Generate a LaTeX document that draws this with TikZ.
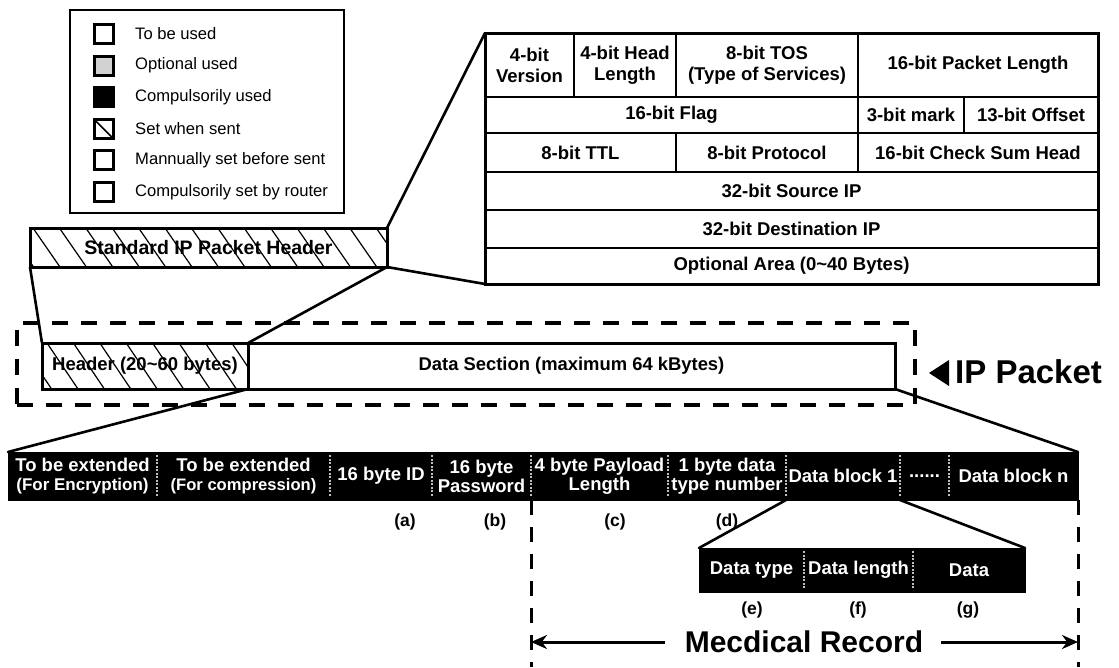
\documentclass[tikz,border=0pt]{standalone}
\usepackage{fontspec}
\setmainfont{Liberation Sans}
\usetikzlibrary{arrows.meta}

% rectangular node given by its two corners
\newcommand\rectnode[7]{%
  \node[#1, minimum width={#5-#3}, minimum height={#6-#4}] (#2)
    at ({(#3+#5)/2},{(#4+#6)/2}) {#7};}

\tikzset{
  legtext/.style={font=\fontsize{16.6}{19}\selectfont, anchor=west, inner sep=0},
  swatch/.style={draw=black, line width=3, minimum size=19, inner sep=0, outer sep=0},
  cellbox/.style={draw=black, line width=2.5, fill=white, inner sep=0, outer sep=0,
    font=\fontsize{18.5}{21}\selectfont\bfseries, align=center},
  frame/.style={draw=black, line width=3, inner sep=0, outer sep=0},
  hatched/.style={draw=black, line width=3, fill=white, inner sep=0, outer sep=0,
    font=\fontsize{18.5}{21}\selectfont\bfseries, align=center},
  hatchline/.style={line width=1.2},
  % diagonal hatching: #1 = offset of first line, #2 = horizontal run, #3 = box height
  hatchfill/.style n args={3}{path picture={
    \foreach \i in {-2,...,16}
      \draw[hatchline] ([xshift={(#1+26.4*\i)*1pt}]path picture bounding box.north west)
        -- ++(#2,#3);}},
  blkseg/.style={fill=black, draw=black, line width=1, text=white, inner sep=0, outer sep=0,
    font=\fontsize{18.5}{21}\selectfont\bfseries, align=center},
  sepline/.style={draw=white!75!black, line width=1.2, dash pattern=on 2pt off 1.5pt},
  pktbox/.style={draw=black, line width=4, dash pattern=on 16pt off 13pt, inner sep=0, outer sep=0},
  vdash/.style={line width=3, dash pattern=on 15pt off 12pt},
  conn/.style={line width=2.6, line cap=round},
  tag/.style={font=\fontsize{17.5}{20}\selectfont\bfseries, inner sep=0},
  arr/.style={line width=3, -{Stealth[length=16pt, width=14pt]}},
}

\begin{document}
\begin{tikzpicture}[x=1pt, y=-1pt]
\useasboundingbox (0,0) rectangle (1119,667);

% ---------------- legend ----------------
\rectnode{frame, line width=2.5}{legend}{70}{10}{344}{213}{}
\node[swatch, fill=white]   (sw1) at (103.5,34)    {};
\node[swatch, fill=gray!35] (sw2) at (103.5,65.6)  {};
\node[swatch, fill=black]   (sw3) at (103.5,97.2)  {};
\node[swatch, fill=white]   (sw4) at (103.5,128.8) {};
\node[swatch, fill=white]   (sw5) at (103.5,160.4) {};
\node[swatch, fill=white]   (sw6) at (103.5,192)   {};
\draw[line width=1.5] (sw4.north west) -- (sw4.south east);
\node[legtext] (lt1) at (135,34)    {To be used};
\node[legtext] (lt2) at (135,65.6)  {Optional used};
\node[legtext] (lt3) at (135,97.2)  {Compulsorily used};
\node[legtext] (lt4) at (135,128.8) {Set when sent};
\node[legtext] (lt5) at (135,160.4) {Mannually set before sent};
\node[legtext] (lt6) at (135,192)   {Compulsorily set by router};

% ---------------- standard header bar ----------------
\rectnode{hatched, font=\fontsize{19.5}{22}\selectfont\bfseries, hatchfill={3}{27}{39}}
  {std}{30}{228}{387}{267}{Standard IP Packet Header}

% ---------------- IP header table ----------------
\rectnode{cellbox}{c11}{485}{33}{574}{97}{4-bit\\Version}
\rectnode{cellbox}{c12}{574}{33}{676}{97}{4-bit Head\\Length}
\rectnode{cellbox}{c13}{676}{33}{858}{97}{8-bit TOS\\(Type of Services)}
\rectnode{cellbox}{c14}{858}{33}{1098}{97}{16-bit Packet Length}
\rectnode{cellbox}{c21}{485}{97}{858}{133}{16-bit Flag}
\rectnode{cellbox}{c22}{858}{97}{964}{133}{3-bit mark}
\rectnode{cellbox}{c23}{964}{97}{1098}{133}{13-bit Offset}
\rectnode{cellbox}{c31}{485}{133}{676}{172}{8-bit TTL}
\rectnode{cellbox}{c32}{676}{133}{858}{172}{8-bit Protocol}
\rectnode{cellbox}{c33}{858}{133}{1098}{172}{16-bit Check Sum Head}
\rectnode{cellbox}{c4}{485}{172}{1098}{210}{32-bit Source IP}
\rectnode{cellbox}{c5}{485}{210}{1098}{248}{32-bit Destination IP}
\rectnode{cellbox}{c6}{485}{248}{1098}{284}{Optional Area (0\textasciitilde 40 Bytes)}
\rectnode{frame}{tbl}{485}{33}{1098}{284}{}

% ---------------- IP packet ----------------
\rectnode{pktbox}{pkt}{17}{323}{915}{405}{}
\rectnode{hatched, hatchfill={5}{31}{46}}
  {hd}{42}{343}{248}{389}{Header (20\textasciitilde 60 bytes)}
\rectnode{hatched, font=\fontsize{18.4}{21}\selectfont\bfseries}
  {ds}{248}{343}{895}{389}{Data Section (maximum 64 kBytes)}
\fill (929,373) -- (949,360) -- (949,386) -- cycle;
\node[font=\fontsize{33}{36}\selectfont\bfseries, anchor=west, inner sep=0] (ipp) at (955,372) {IP Packet};

% ---------------- payload bar ----------------
\rectnode{blkseg}{s1}{8}{452}{157}{500}{To be extended\\[-2pt]{\fontsize{17}{19}\selectfont(For Encryption)}}
\rectnode{blkseg}{s2}{157}{452}{330}{500}{To be extended\\[-2pt]{\fontsize{16.6}{19}\selectfont(For compression)}}
\rectnode{blkseg}{s3}{330}{452}{432}{500}{16 byte ID}
\rectnode{blkseg}{s4}{432}{452}{531}{500}{16 byte\\[-2pt]Password}
\rectnode{blkseg}{s5}{531}{452}{668}{500}{4 byte Payload\\[-2pt]Length}
\rectnode{blkseg}{s6}{668}{452}{786}{500}{1 byte data\\[-2pt]type number}
\rectnode{blkseg}{s7}{786}{452}{900}{500}{Data block 1}
\rectnode{blkseg}{s8}{900}{452}{949}{500}{......}
\rectnode{blkseg}{s9}{949}{452}{1078}{500}{Data block n}
\foreach \s in {s1,s2,s3,s4,s5,s6,s7,s8}
  \draw[sepline] ([yshift=-3pt]\s.north east) -- ([yshift=3pt]\s.south east);

\node[tag] (ta) at (405,522) {(a)};
\node[tag] (tb) at (495,522) {(b)};
\node[tag] (tc) at (615,522) {(c)};
\node[tag] (tdd) at (727,522) {(d)};

% ---------------- data block detail ----------------
\rectnode{blkseg}{d1}{699}{548}{804}{592}{Data type}
\rectnode{blkseg}{d2}{804}{548}{913}{592}{Data length}
\rectnode{blkseg}{d3}{913}{548}{1025}{592}{Data}
\foreach \s in {d1,d2}
  \draw[sepline] ([yshift=-3pt]\s.north east) -- ([yshift=3pt]\s.south east);
\node[tag] (te) at (752,610) {(e)};
\node[tag] (tf) at (858,610) {(f)};
\node[tag] (tg) at (968,610) {(g)};

% ---------------- medical record span ----------------
\coordinate (bot) at (0,667);
\node[font=\fontsize{30}{34}\selectfont\bfseries, inner sep=0] (mr) at (804,642) {Mecdical Record};
\draw[vdash] (s5.south west) -- (s5.south west |- bot);
\draw[vdash] (s9.south east) -- (s9.south east |- bot);
\coordinate (mrL) at (s5.south west |- mr);
\coordinate (mrR) at (s9.south east |- mr);
\draw[arr] ([xshift=-20pt]mr.west) -- (mrL);
\draw[arr] ([xshift=18pt]mr.east) -- (mrR);

% ---------------- zoom connectors ----------------
\draw[conn] (std.north east) -- (tbl.north west);
\draw[conn] (std.south east) -- (tbl.south west);
\draw[conn] (std.south west) -- (hd.north west);
\draw[conn] (std.south east) -- (hd.north east);
\draw[conn] (hd.south east) -- (s1.north west);
\draw[conn] (ds.south east) -- (s9.north east);
\draw[conn] (s7.south west) -- (d1.north west);
\draw[conn] (s7.south east) -- (d3.north east);
\end{tikzpicture}
\end{document}
